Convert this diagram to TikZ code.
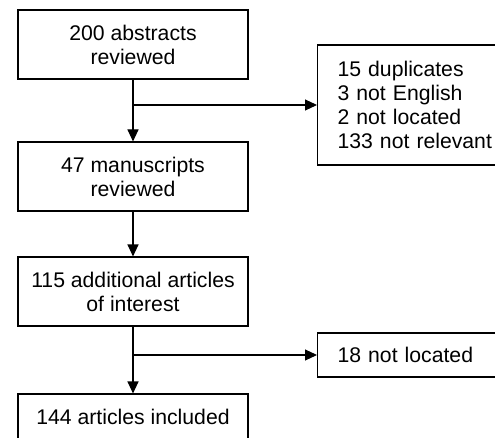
\documentclass[tikz,border=0pt]{standalone}
\usepackage{fontspec}
\setmainfont{Liberation Sans}
\usetikzlibrary{arrows.meta}
\begin{document}
\begin{tikzpicture}[x=1pt,y=1pt,
  every node/.style={font=\fontsize{21.2}{24}\selectfont},
  box/.style={draw, line width=1.1pt, align=center, minimum width=230pt, inner sep=0pt},
  sidebox/.style={draw, line width=1.1pt, align=left, text width=160pt, inner xsep=20pt, inner ysep=0pt, anchor=west},
  arr/.style={line width=1.1pt, -{Triangle[length=12pt,width=11pt]}}]
\useasboundingbox (0,0) rectangle (495,437);
\clip (0,0) rectangle (495,437);
\node[box, minimum height=69pt] (a) at (133,392.5) {200 abstracts\\reviewed};
\node[box, minimum height=69pt] (b) at (133,260.5) {47 manuscripts\\reviewed};
\node[box, minimum height=69pt] (c) at (133,145.5) {115 additional articles\\of interest};
\node[box, minimum height=46pt] (d) at (133,20) {144 articles included};
\node[sidebox, minimum height=120pt] (s1) at (317,332) {15 duplicates\\3 not English\\2 not located\\133 not relevant};
\node[sidebox, minimum height=44pt] (s2) at (317,82) {18 not located};
\coordinate (j1) at (133,332);
\coordinate (j2) at (133,82);
\draw[arr] (a.south) -- (b.north);
\draw[arr] (j1) -- (s1.west);
\draw[arr] (b.south) -- (c.north);
\draw[arr] (c.south) -- (d.north);
\draw[arr] (j2) -- (s2.west);
\end{tikzpicture}
\end{document}
